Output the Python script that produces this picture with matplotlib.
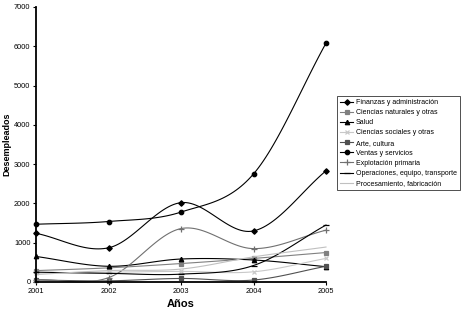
import numpy as np
import matplotlib
matplotlib.use('Agg')
import matplotlib.pyplot as plt
from matplotlib.lines import Line2D

plt.rcParams['font.family'] = ['Liberation Sans', 'DejaVu Sans']

years = [2001, 2002, 2003, 2004, 2005]

finanzas = [1240, 870, 2020, 1300, 2830]
ciencias_naturales = [290, 360, 470, 600, 750]
salud = [650, 400, 585, 560, 390]
ciencias_sociales = [230, 250, 270, 260, 600]
arte = [50, 30, 90, 50, 400]
ventas = [1470, 1540, 1780, 2750, 6080]
explotacion = [60, 110, 1360, 850, 1320]
operaciones = [250, 220, 200, 420, 1450]
procesamiento = [190, 290, 330, 640, 890]

series = [
    ('Finanzas y administración', finanzas, 'black', 'D', 2.8),
    ('Ciencias naturales y otras', ciencias_naturales, '#808080', 's', 3.2),
    ('Salud', salud, 'black', '^', 3.2),
    ('Ciencias sociales y otras', ciencias_sociales, '#c8c8c8', 'x', 3.2),
    ('Arte, cultura', arte, '#505050', 's', 2.8),
    ('Ventas y servicios', ventas, 'black', 'o', 3.2),
    ('Explotación primaria', explotacion, '#707070', '+', 4.2),
    ('Operaciones, equipo, transporte', operaciones, 'black', '_', 4.2),
    ('Procesamiento, fabricación', procesamiento, '#c0c0c0', None, 0),
]


def smooth(x, y, n=30):
    # catmull-rom style curve through the points, like Excel's smoothed lines
    x = np.asarray(x, float)
    y = np.asarray(y, float)
    px = np.concatenate([[2 * x[0] - x[1]], x, [2 * x[-1] - x[-2]]])
    py = np.concatenate([[2 * y[0] - y[1]], y, [2 * y[-1] - y[-2]]])
    xs, ys = [], []
    t = np.linspace(0, 1, n)
    for i in range(1, len(px) - 2):
        for p, out in ((px, xs), (py, ys)):
            p0, p1, p2, p3 = p[i - 1], p[i], p[i + 1], p[i + 2]
            out.extend(0.5 * ((2 * p1) + (-p0 + p2) * t
                              + (2 * p0 - 5 * p1 + 4 * p2 - p3) * t ** 2
                              + (-p0 + 3 * p1 - 3 * p2 + p3) * t ** 3))
    return np.array(xs), np.array(ys)


fig = plt.figure(figsize=(4.63, 3.14), dpi=100)
ax = fig.add_axes([36 / 463, 32 / 314, 290 / 463, 275 / 314])

handles = []
for name, vals, color, marker, ms in series:
    sx, sy = smooth(years, vals)
    ax.plot(sx, sy, color=color, lw=0.8, clip_on=False)
    if marker:
        ax.plot(years, vals, ls='none', marker=marker, color=color,
                markersize=ms, markeredgewidth=0.9, clip_on=False)
    handles.append(Line2D([], [], color=color, lw=0.8, marker=marker,
                          markersize=ms, markeredgewidth=0.9, label=name))

ax.set_xlim(2001, 2005)
ax.set_ylim(0, 7000)
ax.set_xticks(years)
ax.set_yticks(range(0, 7001, 1000))
ax.tick_params(labelsize=5.3, length=2, width=0.8, pad=2)
for s in ('top', 'right'):
    ax.spines[s].set_visible(False)
for s in ('left', 'bottom'):
    ax.spines[s].set_linewidth(1.3)

ax.set_xlabel('Años', fontsize=8, fontweight='bold', labelpad=3)
ax.set_ylabel('Desempleados', fontsize=6.5, fontweight='bold')
ax.yaxis.set_label_coords(-0.085, 0.5)

leg = fig.legend(handles=handles, loc='upper left',
                 bbox_to_anchor=(337 / 463, 1 - 96 / 314),
                 fontsize=5.0, frameon=True, fancybox=False,
                 edgecolor='black', handlelength=1.9, handletextpad=0.35,
                 labelspacing=0.45, borderpad=0.45, borderaxespad=0)
leg.get_frame().set_linewidth(0.6)

fig.savefig('out.png', dpi=100)
